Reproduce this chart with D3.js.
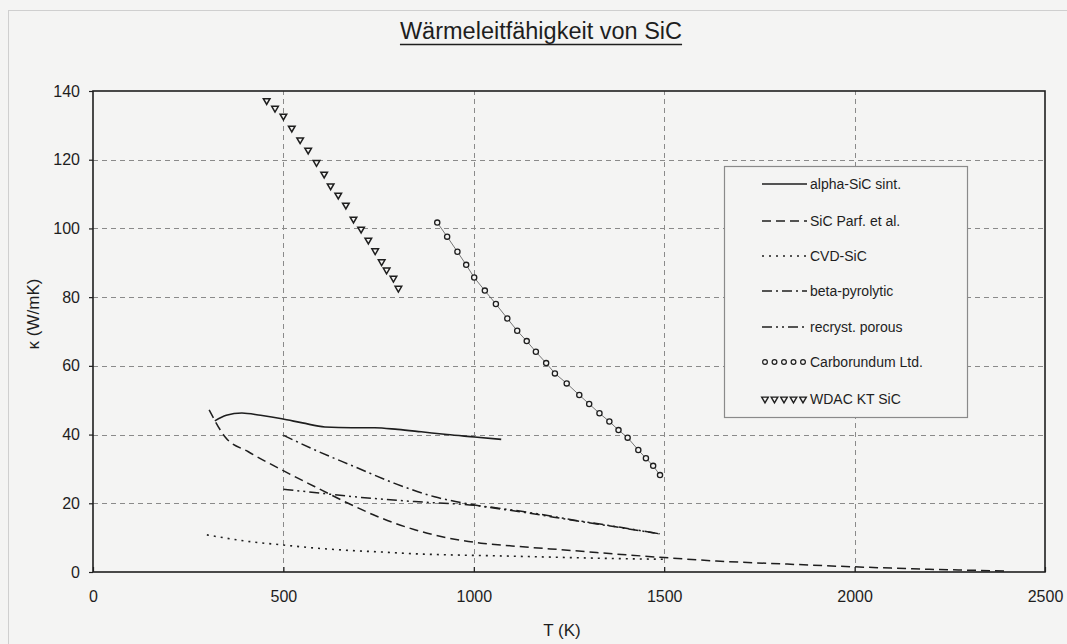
<!DOCTYPE html>
<html>
<head>
<meta charset="utf-8">
<script src="https://cdn.jsdelivr.net/npm/d3@7"></script>
<style>
  html, body { margin: 0; padding: 0; background: #f4f4f3; }
  svg { display: block; font-family: "Liberation Sans", Arial, sans-serif; }
</style>
</head>
<body>
<svg id="chart" width="1067" height="644"></svg>
<script>
// Thermal conductivity of SiC: temperature T (K) vs. kappa (W/mK)
const title = "Wärmeleitfähigkeit von SiC";
const xLabel = "T (K)";
const yLabel = "κ (W/mK)";
const xTicks = [0, 500, 1000, 1500, 2000, 2500];
const yTicks = [0, 20, 40, 60, 80, 100, 120, 140];

const seriesNames = [
  "alpha-SiC sint.",
  "SiC Parf. et al.",
  "CVD-SiC",
  "beta-pyrolytic",
  "recryst. porous",
  "Carborundum Ltd.",
  "WDAC KT SiC"
];

const alphaSiC = [[320, 44.0], [350, 45.6], [391, 46.3], [440, 45.6], [496, 44.6], [550, 43.4], [609, 42.2], [680, 42.0], [740, 42.0], [800, 41.5], [862, 40.8], [930, 40.0], [1002, 39.3], [1072, 38.6]];
const sicParf = [[305, 47.2], [347, 39.3], [408, 35.0], [496, 29.7], [583, 24.8], [670, 20.0], [757, 15.7], [845, 12.3], [932, 9.9], [1019, 8.4], [1100, 7.6], [1264, 6.2], [1400, 5.0], [1500, 4.2], [1637, 3.2], [1823, 2.3], [2000, 1.5], [2196, 0.8], [2396, 0.3]];
const cvdSiC = [[299, 10.8], [408, 8.9], [496, 7.9], [580, 7.0], [670, 6.3], [760, 5.8], [845, 5.3], [930, 5.0], [1019, 4.8], [1141, 4.5], [1250, 4.2], [1380, 3.9], [1500, 3.7]];
const betaPyrolytic = [[500, 39.8], [583, 35.5], [688, 30.6], [792, 25.8], [897, 21.9], [1002, 19.5], [1141, 17.2], [1264, 15.0], [1380, 13.0], [1488, 11.1]];
const recrystPorous = [[500, 24.1], [600, 22.9], [705, 21.7], [845, 20.5], [1002, 19.4], [1141, 17.4], [1264, 15.1], [1380, 13.1], [1488, 11.1]];
const carborundum = [[904, 101.7], [930, 97.6], [957, 93.2], [980, 89.4], [1001, 85.7], [1029, 81.9], [1058, 78.0], [1088, 73.8], [1114, 70.2], [1139, 67.2], [1163, 64.1], [1190, 60.8], [1213, 57.8], [1244, 54.9], [1277, 51.5], [1303, 48.9], [1330, 46.2], [1356, 43.8], [1380, 41.3], [1404, 39.1], [1432, 35.5], [1452, 33.1], [1471, 30.9], [1489, 28.2]];
const wdacKT = [[456, 137.2], [478, 135.0], [500, 132.7], [522, 129.2], [544, 125.8], [565, 122.8], [587, 119.2], [607, 115.8], [624, 112.4], [644, 109.7], [664, 106.8], [684, 102.7], [704, 99.8], [723, 96.6], [741, 93.5], [758, 90.3], [771, 87.9], [789, 85.5], [802, 82.6]];

const ink = "#1e1e1e";
const paper = "#f4f4f3";
const svg = d3.select("#chart");

// paper frame
svg.append("rect").attr("x", 0).attr("y", 0).attr("width", 1067).attr("height", 644).attr("fill", paper);
svg.append("rect").attr("x", 8.5).attr("y", 10.5).attr("width", 1070).attr("height", 650)
  .attr("fill", "none").attr("stroke", "#cfcfcf").attr("stroke-width", 1);

const x = d3.scaleLinear().domain([0, 2500]).range([93, 1045]);
const y = d3.scaleLinear().domain([0, 140]).range([572, 91]);

// title, underlined
const t = svg.append("text").attr("x", 541).attr("y", 39).attr("text-anchor", "middle")
  .attr("font-size", 23.5).attr("fill", ink).text(title);
const tw = t.node().getComputedTextLength();
svg.append("line").attr("x1", 541 - tw / 2).attr("x2", 541 + tw / 2).attr("y1", 44.5).attr("y2", 44.5)
  .attr("stroke", ink).attr("stroke-width", 1.3);

// dashed grid
const grid = svg.append("g").attr("stroke", "#8a8a8a").attr("stroke-width", 1).attr("stroke-dasharray", "5,4");
grid.selectAll("line.h").data(yTicks.filter(v => v > 0 && v < 140)).join("line")
  .attr("x1", x(0)).attr("x2", x(2500)).attr("y1", d => Math.round(y(d)) + 0.5).attr("y2", d => Math.round(y(d)) + 0.5);
grid.selectAll("line.v").data(xTicks.filter(v => v > 0 && v < 2500)).join("line")
  .attr("y1", y(0)).attr("y2", y(140)).attr("x1", d => Math.round(x(d)) + 0.5).attr("x2", d => Math.round(x(d)) + 0.5);

// plot frame
svg.append("rect").attr("x", x(0)).attr("y", y(140)).attr("width", x(2500) - x(0)).attr("height", y(0) - y(140))
  .attr("fill", "none").attr("stroke", ink).attr("stroke-width", 1.6);

// axes
const xAxis = svg.append("g").attr("transform", `translate(0,${y(0)})`)
  .call(d3.axisBottom(x).tickValues(xTicks).tickFormat(d3.format("d")).tickSizeInner(-5).tickSizeOuter(0).tickPadding(19));
const yAxis = svg.append("g").attr("transform", `translate(${x(0)},0)`)
  .call(d3.axisLeft(y).tickValues(yTicks).tickFormat(d3.format("d")).tickSizeInner(4).tickSizeOuter(0).tickPadding(9));
[xAxis, yAxis].forEach(g => {
  g.select(".domain").remove();
  g.selectAll("line").attr("stroke", ink).attr("stroke-width", 1.2);
  g.selectAll("text").attr("font-size", 16).attr("fill", ink).attr("font-family", "Liberation Sans, Arial, sans-serif");
});

// axis titles
svg.append("text").attr("x", 562).attr("y", 636).attr("text-anchor", "middle")
  .attr("font-size", 17).attr("fill", ink).text(xLabel);
svg.append("text").attr("transform", "translate(39,314) rotate(-90)").attr("text-anchor", "middle")
  .attr("font-size", 17).attr("fill", ink).text(yLabel);

const line = d3.line().x(d => x(d[0])).y(d => y(d[1])).curve(d3.curveMonotoneX);
const styles = [
  { data: alphaSiC, dash: null, width: 1.6 },
  { data: sicParf, dash: "9,5", width: 1.5 },
  { data: cvdSiC, dash: "2,5", width: 1.6 },
  { data: betaPyrolytic, dash: "10,4,2,4", width: 1.5 },
  { data: recrystPorous, dash: "10,4,2,4,2,4", width: 1.5 }
];
styles.forEach(s => {
  svg.append("path").datum(s.data).attr("d", line).attr("fill", "none")
    .attr("stroke", ink).attr("stroke-width", s.width).attr("stroke-dasharray", s.dash);
});

// Carborundum: thin line with open circles
svg.append("path").datum(carborundum).attr("d", d3.line().x(d => x(d[0])).y(d => y(d[1])))
  .attr("fill", "none").attr("stroke", "#555").attr("stroke-width", 0.8);
svg.append("g").selectAll("circle").data(carborundum).join("circle")
  .attr("cx", d => x(d[0])).attr("cy", d => y(d[1])).attr("r", 2.6)
  .attr("fill", paper).attr("stroke", ink).attr("stroke-width", 1.3);

// WDAC: open downward triangles
const tri = d3.symbol().type(d3.symbolTriangle).size(19);
svg.append("g").selectAll("path").data(wdacKT).join("path")
  .attr("d", tri).attr("transform", d => `translate(${x(d[0])},${y(d[1])}) rotate(180)`)
  .attr("fill", paper).attr("stroke", ink).attr("stroke-width", 1.5);

// legend
const lg = svg.append("g");
lg.append("rect").attr("x", 724.5).attr("y", 166.5).attr("width", 243).attr("height", 251)
  .attr("fill", paper).attr("stroke", "#8a8a8a").attr("stroke-width", 1.2);
const rowY = [184, 221, 256, 291, 327, 362, 399];
const sx0 = 762, sx1 = 807;
seriesNames.forEach((name, i) => {
  const yy = rowY[i];
  if (i < 5) {
    lg.append("line").attr("x1", sx0).attr("x2", sx1).attr("y1", yy).attr("y2", yy)
      .attr("stroke", ink).attr("stroke-width", styles[i].width).attr("stroke-dasharray", styles[i].dash);
  } else {
    const xs = d3.range(5).map(k => sx0 + 3 + k * 9.5);
    if (i === 5) {
      lg.selectAll(null).data(xs).join("circle").attr("cx", d => d).attr("cy", yy).attr("r", 2.4)
        .attr("fill", paper).attr("stroke", ink).attr("stroke-width", 1.2);
    } else {
      lg.selectAll(null).data(xs).join("path").attr("d", tri)
        .attr("transform", d => `translate(${d},${yy}) rotate(180)`)
        .attr("fill", paper).attr("stroke", ink).attr("stroke-width", 1.4);
    }
  }
  lg.append("text").attr("x", 810).attr("y", yy + 5).attr("font-size", 14).attr("fill", ink).text(name);
});
</script>
</body>
</html>
